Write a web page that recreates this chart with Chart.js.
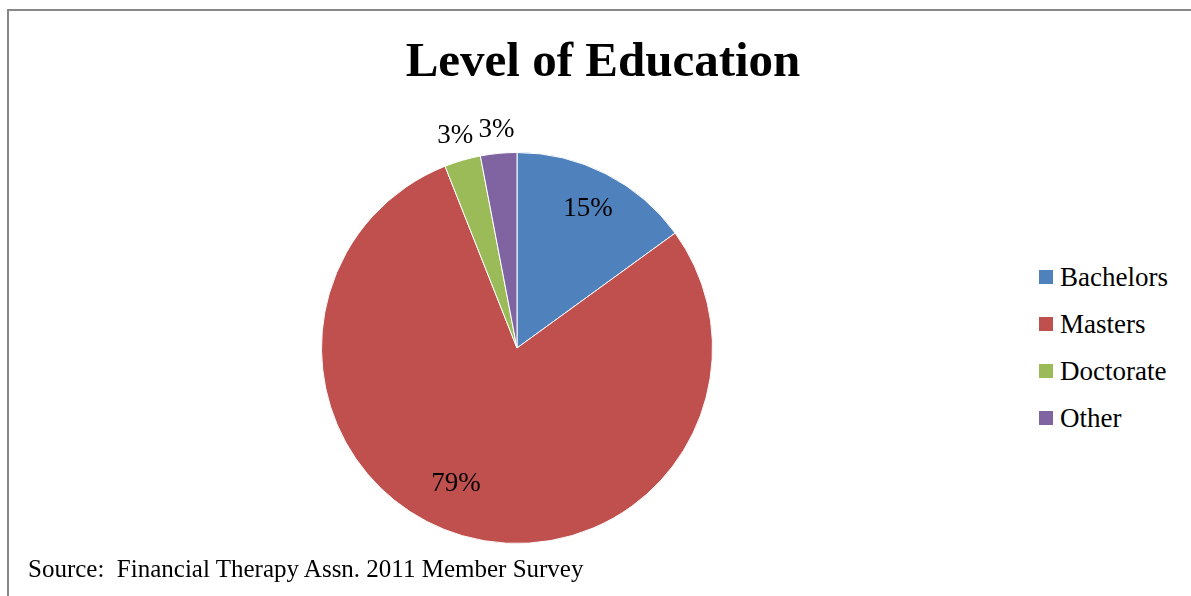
<!DOCTYPE html>
<html lang="en">
<head>
  <meta charset="UTF-8">
  <script src="https://cdn.jsdelivr.net/npm/chart.js"></script>
  <title>Level of Education</title>
  <style>
    body { margin: 0; background: #fff; font-family: 'Liberation Serif', serif; }
    .frame { position: absolute; left: 7px; top: 9px; width: 1200px; height: 600px;
             border-left: 2px solid #878787; border-top: 2px solid #878787; }
    .title { position: absolute; left: 0; width: 1206px; top: 35px; text-align: center;
             font: bold 49px/49px 'Liberation Serif', serif; color: #000; }
    #pieWrap { position: absolute; left: 221px; top: 100px; width: 592px; height: 496px; }
    #legend { position: absolute; left: 1039px; top: 253.5px; }
    .item { display: flex; align-items: center; height: 47px; font: 27px/47px 'Liberation Serif', serif; color: #000; }
    .box { width: 14px; height: 14px; margin-right: 7px; }
    .source { position: absolute; left: 28px; top: 556px; font: 25px/25px 'Liberation Serif', serif; color: #000; white-space: pre; }
  </style>
</head>
<body>

<div class="frame"></div>
<div class="title">Level of Education</div>
<div id="pieWrap"><canvas id="pieChart" width="592" height="496"></canvas></div>
<div id="legend"></div>
<div class="source">Source:  Financial Therapy Assn. 2011 Member Survey</div>

<script>
  const categories = ['Bachelors', 'Masters', 'Doctorate', 'Other'];
  const shares = [15, 79, 3, 3];
  const colours = ['#4F81BD', '#C0504D', '#9BBB59', '#8064A2'];
  // where each percent label sits: fraction of the radius, and a small turn (degrees) off the slice middle
  const labelRadius = [0.80, 0.76, 1.13, 1.12];
  const labelTurn = [0, 8, 0, 0];

  // percent labels drawn on / beside the slices
  const sliceLabels = {
    id: 'sliceLabels',
    afterDatasetsDraw(chart) {
      const ctx = chart.ctx;
      const arcs = chart.getDatasetMeta(0).data;
      const total = shares.reduce((a, b) => a + b, 0);
      ctx.save();
      ctx.font = '27px "Liberation Serif", serif';
      ctx.fillStyle = '#000';
      ctx.textAlign = 'center';
      ctx.textBaseline = 'middle';
      arcs.forEach((arc, i) => {
        const p = arc.getProps(['x', 'y', 'startAngle', 'endAngle', 'outerRadius'], true);
        const mid = (p.startAngle + p.endAngle) / 2 + labelTurn[i] * Math.PI / 180;
        const r = p.outerRadius * labelRadius[i];
        const txt = Math.round(shares[i] / total * 100) + '%';
        ctx.fillText(txt, p.x + Math.cos(mid) * r, p.y + Math.sin(mid) * r);
      });
      ctx.restore();
    }
  };

  new Chart(document.getElementById('pieChart'), {
    type: 'pie',
    data: {
      labels: categories,
      datasets: [{
        data: shares,
        backgroundColor: colours,
        borderColor: '#ffffff',
        borderWidth: 1
      }]
    },
    options: {
      responsive: false,
      animation: false,
      layout: { padding: { left: 100, right: 100, top: 52, bottom: 52 } },
      plugins: {
        legend: { display: false },
        tooltip: { enabled: false }
      }
    },
    plugins: [sliceLabels]
  });

  const legend = document.getElementById('legend');
  categories.forEach((name, i) => {
    const row = document.createElement('div');
    row.className = 'item';
    row.innerHTML = '<span class="box" style="background:' + colours[i] + '"></span>' + name;
    legend.appendChild(row);
  });
</script>

</body>
</html>
